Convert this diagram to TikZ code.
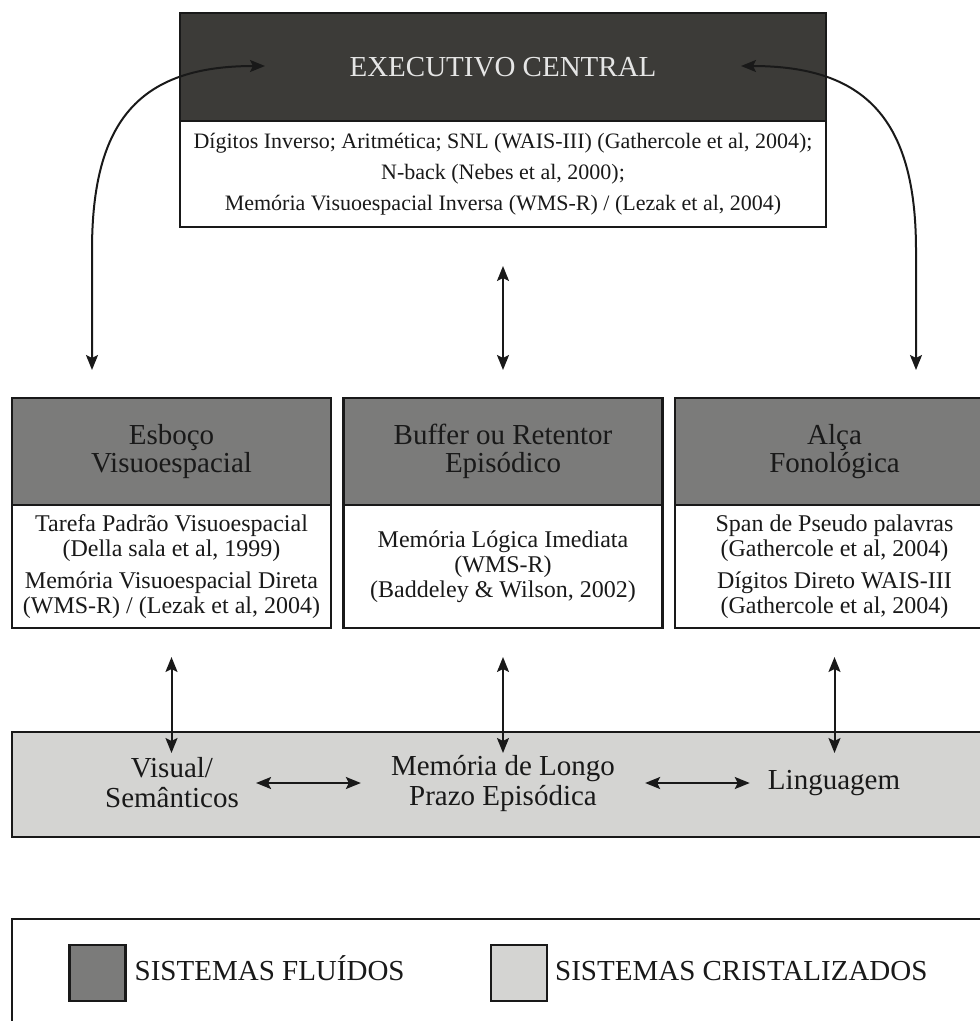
\documentclass[tikz,border=0pt]{standalone}
\usepackage{fontspec}
\setmainfont{Liberation Serif}
\usetikzlibrary{positioning,arrows.meta}

\definecolor{execgray}{RGB}{60,59,56}
\definecolor{fluidgray}{RGB}{123,123,122}
\definecolor{crystgray}{RGB}{212,212,210}

\begin{document}
\begin{tikzpicture}[x=1pt,y=-1pt,
  box/.style={draw=black!90, line width=2.5pt, outer sep=0pt, inner sep=0pt, align=center},
  exec/.style={box, fill=execgray, text=white!90!black, minimum width=646pt, minimum height=108pt, font=\fontsize{29}{30}\selectfont},
  tests/.style={box, fill=white, text=black!90, font=\fontsize{22}{31}\selectfont},
  fluid/.style={box, fill=fluidgray, text=black!90, minimum width=319pt, minimum height=107pt, font=\fontsize{29}{28}\selectfont},
  probe/.style={box, fill=white, text=black!90, minimum width=319pt, minimum height=123pt, font=\fontsize{24}{25}\selectfont},
  store/.style={align=center, inner sep=0pt, text=black!90, font=\fontsize{29}{30}\selectfont},
  swatch/.style={box, minimum size=56pt},
  key/.style={inner sep=0pt, text height=20pt, text depth=6pt, text=black!90, font=\fontsize{29}{30}\selectfont},
  link/.style={{Stealth[length=15pt,width=12pt,inset=3pt]}-{Stealth[length=15pt,width=12pt,inset=3pt]}, line width=2pt, black!90},
]
\useasboundingbox (0,0) rectangle (980,1021);

  % executivo central
  \node[exec] (ec) at (503,67) {EXECUTIVO CENTRAL};
  \node[tests, below=0pt of ec, minimum width=646pt, minimum height=106pt] (ec-tests)
    {D\'igitos Inverso; Aritm\'etica; SNL (WAIS-III) (Gathercole et al, 2004);\\
     N-back (Nebes et al, 2000);\\
     Mem\'oria Visuoespacial Inversa (WMS-R) / (Lezak et al, 2004)};

  % subsistemas
  \node[fluid] (esb) at (171.5,451.5) {Esbo\c{c}o\\Visuoespacial};
  \node[probe, below=0pt of esb] (esb-tests)
    {Tarefa Padr\~ao Visuoespacial\\(Della sala et al, 1999)\\[7pt]
     Mem\'oria Visuoespacial Direta\\(WMS-R) / (Lezak et al, 2004)};

  \node[fluid] (buf) at (503,451.5) {Buffer ou Retentor\\Epis\'odico};
  \node[probe, below=0pt of buf] (buf-tests)
    {Mem\'oria L\'ogica Imediata\\(WMS-R)\\(Baddeley \& Wilson, 2002)};

  \node[fluid] (alca) at (834.5,451.5) {Al\c{c}a\\Fonol\'ogica};
  \node[probe, below=0pt of alca] (alca-tests)
    {Span de Pseudo palavras\\(Gathercole et al, 2004)\\[7pt]
     D\'igitos Direto WAIS-III\\(Gathercole et al, 2004)};

  % longo prazo
  \node[box, fill=crystgray, minimum width=983pt, minimum height=105pt] (lt) at (503.5,784.5) {};
  \node[store] (vis) at (172,783) {Visual/\\Sem\^anticos};
  \node[store] (mlp) at (503,783) {Mem\'oria de Longo\\Prazo Epis\'odica};
  \node[store] (lng) at (834,783) {Linguagem};

  \coordinate (ec-l) at (265,66);
  \coordinate (ec-r) at (741,66);
  \coordinate (esb-in) at (92,370);
  \coordinate (alca-in) at (916,370);

  \draw[link] (esb-in) -- ++(0,-120) .. controls +(0,-130) and +(-125,0) .. (ec-l);
  \draw[link] (alca-in) -- ++(0,-120) .. controls +(0,-130) and +(125,0) .. (ec-r);
  \draw[link, shorten <=39pt, shorten >=28pt] (ec-tests.south) -- (buf.north);

  \foreach \s in {esb,buf,alca}
    \draw[link, shorten <=29pt, shorten >=-21pt] (\s-tests.south) -- (\s-tests.south |- lt.north);

  \draw[link, shorten <=17pt, shorten >=30pt] (vis.east) -- (mlp.west);
  \draw[link, shorten <=30pt, shorten >=18pt] (mlp.east) -- (lng.west);

  % legenda
  \node[box, fill=white, anchor=north west, minimum width=983pt, minimum height=130pt] (legend) at (12,919) {};
  \node[swatch, fill=fluidgray] (key-fl) at (97.5,973) {};
  \node[key, right=9pt of key-fl] (key-fl-txt) {SISTEMAS FLU\'IDOS};
  \node[swatch, fill=crystgray] (key-cr) at (519,973) {};
  \node[key, right=8pt of key-cr] (key-cr-txt) {SISTEMAS CRISTALIZADOS};

\end{tikzpicture}
\end{document}
